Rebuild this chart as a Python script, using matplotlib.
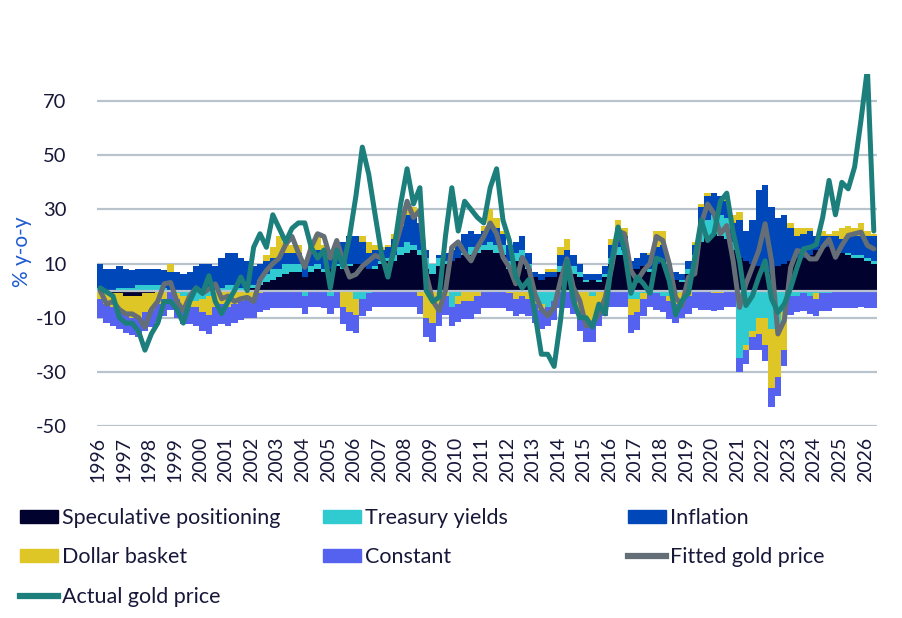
import numpy as np
import matplotlib
matplotlib.use('Agg')
import matplotlib.pyplot as plt
from matplotlib.patches import Patch
from matplotlib.lines import Line2D

# quarterly contributions to gold price, % y-o-y, 1996Q1 .. 2026Q2
start_year = 1996
years = list(range(1996, 2027))

speculative = [0, -1, -1, -1, -2, -2, -2, -1, -1, 0, 0, 0, 0, 0, 0, 0,
               0, 0, 0, 0, 0, 0, 0, 1, 1, 2, 3, 4, 5, 6, 7, 7,
               5, 7, 8, 7, 8, 9, 8, 9, 10, 10, 8, 8, 10, 11, 11, 13,
               14, 15, 13, 8, 6, 9, 10, 11, 12, 13, 13, 14, 15, 15, 14,
               13, 8, 11, 12, 8, 5, 4, 5, 5, 7, 8, 6, 5, 3, 4, 3,
               5, 10, 13, 13, 8, 8, 9, 7, 10, 11, 6, 4, 3, 6, 9,
               18, 20, 21, 20, 19, 15, 12, 11, 10, 9, 7, 7, 9, 10, 11, 12,
               12, 13, 15, 16, 16, 15, 14, 13, 12, 12, 11, 10]
treasury = [1, 0, 0, 1, 1, 1, 2, 2, 2, 2, 1, 0, -1, -2, -3, -4,
            -3, -2, 0, 1, 2, 2, 1, 1, 1, 2, 3, 4, 3, 4, 3, 3,
            -2, 2, 2, 1, -2, 1, 1, 1, -3, -3, -1, 1, 1, 1, 2, 3,
            4, 2, 2, 4, 4, 3, 1, -6, -2, 1, 3, 2, 2, 3, 3,
            4, 3, 3, 3, 2, -2, -5, -6, -4, 2, 3, 3, 2, 1, -2, 1,
            1, 2, 3, 2, -3, -3, -1, 1, -1, -2, -2, -1, 1, 2, 4,
            5, 6, 7, 8, 8, 3, -25, -20, -15, -10, -10, -14, -12, -8, -2, -2,
            -1, -2, -1, -1, -1, 0, 0, 1, 1, 1, 1, 1]
inflation = [9, 8, 8, 8, 7, 6.5, 6, 6, 6, 6, 6.5, 7, 7, 6, 7, 9,
             10, 10, 9, 11, 12, 12, 11, 9, 7, 6, 5, 4, 4, 4, 4, 4,
             4, 5, 5, 6, 4, 5, 9, 10, 10, 8, 6, 6, 4, 4, 6, 8,
             10, 11, 10, 3, 0, 1, 3, 4, 6, 7, 6, 5, 5, 6, 6,
             4, 6, 4, 5, 4, 2, 2, 2, 2, 4, 4, 4, 3, 2, 2, 2,
             3, 5, 7, 5, 3, 4, 5, 5, 6, 6, 4, 3, 2, 3, 4,
             8, 9, 8, 7, 6, 7, 14, 11, 16, 28, 32, 24, 18, 18, 12, 8,
             9, 9, 5, 4, 4, 5, 5, 6, 7, 7, 8, 9]
dollar = [-3, -4, -5, -6, -7, -8, -8, -7, -6, -5, -3, 3, -2, -4, -3, -2,
          -5, -7, -6, -5, -6, -5, -4, -3, -3, -1, 2, 4, 8, 4, 3, 3,
          1, 3, 6, 3, 2, 3, -6, -8, -6, 2, 4, 2, 1, 1, 2, 3,
          4, 3, -2, -10, -12, -6, -2, 1, -3, -4, -4, -2, 2, 6, 4,
          1, -1, -3, -2, -3, -3, -2, 1, 1, 3, 4, -2, -8, -12, -10, -6,
          -3, 2, 3, 3, -6, -5, -2, 1, 6, 5, -2, -4, -3, -2, 1,
          1, 1, -1, -1, 2, 3, 3, -2, -2, -6, -10, -22, -20, -14, 2, 3,
          2, 1, -2, 2, 1, 2, 4, 4, 3, 5, 2, 1]
constant = [-7, -7, -7, -7, -6.5, -6.5, -7, -7, -6.5, -6.5, -6.5, -7, -7, -6.5, -6.5, -7,
            -7, -7, -7, -7.5, -7, -7, -7, -7, -7, -7, -7, -6.5, -6.5, -6.5, -6.5, -6.5,
            -6.5, -6, -6, -6.5, -6.5, -6.5, -6.5, -7, -6.5, -6.5, -6.5, -6, -6, -6, -6, -6,
            -6, -6, -6.5, -7, -7, -7, -7, -7, -6.5, -6.5, -6.5, -6.5, -6.5, -6.5, -6.5,
            -6.5, -6.5, -6.5, -6.5, -6.5, -7, -7, -7, -7, -6.5, -6.5, -6.5, -7, -7, -7, -7,
            -6.5, -6, -6, -6, -6.5, -6.5, -6.5, -6, -6, -6, -6.5, -7, -7, -6.5, -6.5,
            -7, -7, -6.5, -6, -6, -6, -5, -5, -5, -6, -6, -7, -7, -6, -7, -6,
            -6.5, -6.5, -6.5, -6.5, -6.5, -6.5, -6.5, -6.5, -6.5, -6, -6.5, -6.5]
fitted = [0, -5, -4, -7, -8.6, -8.6, -10, -13.5, -7, -4, 2.5, 3, -4, -7.4, -2, 1,
          -1, 0.6, 2.5, -3, -2, -4, -3, -2.5, -4, 4, 7.4, 10, 12, 17, 20, 14,
          8.6, 16, 21, 20, 12, 18.5, 11, 5, 6, 9, 11, 13, 12, 7.4, 15, 23.5,
          33, 27, 29.6, 6, -3.7, -7.4, 0, 16, 18, 14, 11, 16, 20, 25, 21,
          12.3, 8.6, 2.5, 12.3, 8.6, -1.2, -6.8, -9.3, -6.2, 3.7, 11.7, 1.2, -3.7, -13, -12.3, -8.6,
          -2.5, 8.6, 22, 21, 7.4, 3.7, 7.4, 10, 20, 18.5, 10, -2.5, -5.5, 5, 6.2,
          24.7, 32, 28.4, 21, 24, 11, -6.2, 2.5, 8.6, 14.8, 24.7, 11, -16, -11, 8.6, 14.8,
          14.2, 11.7, 11.7, 16, 19, 12.3, 16.7, 20.4, 21, 21.6, 16.7, 15.4]
actual = [1, -0.5, -2, -10, -12, -12, -15, -22, -16, -12, -4, -4, -7, -12, -4, 1,
          -1, 5.5, -4, -8.5, -4, 0, 5, 0, 16, 21, 16, 28, 23, 18, 23, 25,
          25, 16, 12, 15, 1, 15, 9, 20, 35, 53, 43, 28, 13.5, 5, 16, 32,
          45, 32, 38, 0, -4, -2.5, 20, 38, 22, 33, 30, 27, 25, 38, 45,
          26, 18.5, 5, 1, 4, -8.5, -23.5, -23.5, -28, -11, 11, -3.7, -10, -10, -13.5, -5,
          -8.6, 11, 23.5, 15, -1, 5, 2.5, -1, 12, 11, 3.7, -9, -3.7, -1, 12,
          26, 18.5, 21, 33, 36, 21.6, 11, -5.5, -2, 5, 11, -3, -8, -5, 1, 8.6,
          15.4, 16, 17, 27, 40.7, 28, 40, 37.6, 45.7, 63, 82, 22]

bar_series = [
    ('Speculative positioning', speculative, '#02022E'),
    ('Treasury yields', treasury, '#2FCBD0'),
    ('Inflation', inflation, '#0047B9'),
    ('Dollar basket', dollar, '#DDC626'),
    ('Constant', constant, '#5562F0'),
]
fitted_color = '#646E76'
actual_color = '#1C7F7B'
grid_color = '#B9C3CC'
text_color = '#17173A'

plt.rcParams['font.family'] = ['Lato', 'DejaVu Sans']
plt.rcParams['axes.unicode_minus'] = False

n = len(actual)
x = start_year + np.arange(n) * 0.25

fig = plt.figure(figsize=(9.03, 6.18), dpi=100)
ax = fig.add_axes([97 / 903, 1 - 426 / 618, 780 / 903, 352 / 618])

pos_bottom = np.zeros(n)
neg_bottom = np.zeros(n)
for name, vals, col in bar_series:
    v = np.array(vals, dtype=float)
    bottom = np.where(v >= 0, pos_bottom, neg_bottom)
    ax.bar(x, v, width=0.25, bottom=bottom, align='edge', color=col,
           linewidth=0, zorder=2)
    pos_bottom += np.clip(v, 0, None)
    neg_bottom += np.clip(v, None, 0)

ax.axhline(0, color=grid_color, lw=1.6, zorder=3)
ax.plot(x + 0.125, fitted, color=fitted_color, lw=3.6, zorder=4,
        solid_joinstyle='round', solid_capstyle='round')
ax.plot(x + 0.125, actual, color=actual_color, lw=3.6, zorder=5,
        solid_joinstyle='round', solid_capstyle='round')

ax.set_xlim(start_year, start_year + n * 0.25)
ax.set_ylim(-50, 80)
ax.set_yticks(range(-50, 71, 20))
ax.set_xticks([y + 1 / 24 for y in years])
ax.set_xticklabels([str(y) for y in years], rotation=90)
ax.grid(axis='y', color=grid_color, lw=1.6)
ax.set_axisbelow(True)
for s in ax.spines.values():
    s.set_visible(False)
ax.tick_params(axis='y', length=0, pad=22, labelsize=14.5, labelcolor=text_color)
ax.tick_params(axis='x', length=0, pad=8, labelsize=14, labelcolor=text_color)

fig.text(22 / 903, 1 - 252 / 618, '% y-o-y', rotation=90, ha='center',
         va='center', fontsize=15, color='#1F5BD0')

# legend: three columns placed like the original
col1 = [Patch(color='#02022E'), Patch(color='#DDC626'),
        Line2D([], [], color=actual_color, lw=4.5)]
lab1 = ['Speculative positioning', 'Dollar basket', 'Actual gold price']
col2 = [Patch(color='#2FCBD0'), Patch(color='#5562F0')]
lab2 = ['Treasury yields', 'Constant']
col3 = [Patch(color='#0047B9'), Line2D([], [], color=fitted_color, lw=4.5)]
lab3 = ['Inflation', 'Fitted gold price']
leg_kw = dict(loc='upper left', frameon=False, fontsize=15.5, handlelength=1.77,
              handleheight=0.56, handletextpad=0.2, labelspacing=0.9,
              borderaxespad=0, borderpad=0)
for hs, ls, x0 in [(col1, lab1, 20), (col2, lab2, 323), (col3, lab3, 628)]:
    leg = fig.legend(hs, ls, bbox_to_anchor=(x0 / 903, 1 - 508 / 618), **leg_kw)
    for t in leg.get_texts():
        t.set_color(text_color)

fig.savefig('out.png', dpi=100)
